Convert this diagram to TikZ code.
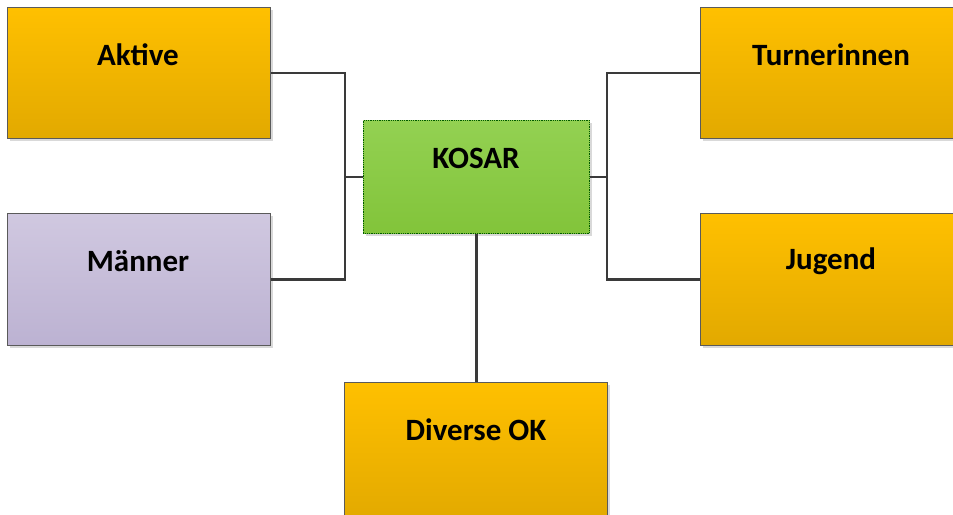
\documentclass[tikz,border=0pt]{standalone}
\usepackage{fontspec}
\setmainfont{Carlito}
\usetikzlibrary{shadows}
\definecolor{orgtop}{HTML}{FFC000}
\definecolor{orgbot}{HTML}{E2A900}
\definecolor{purtop}{HTML}{D0C8E0}
\definecolor{purbot}{HTML}{BCB2D2}
\definecolor{grntop}{HTML}{93D152}
\definecolor{grnbot}{HTML}{82C43A}
\definecolor{edge}{HTML}{5A5A5A}
\definecolor{conn}{HTML}{3A3A3A}
\begin{document}
\begin{tikzpicture}[x=1pt,y=-1pt,
  box/.style={draw=edge,line width=0.8pt,anchor=north west,inner sep=0pt,
    drop shadow={shadow xshift=3pt,shadow yshift=-3pt,fill=black!15,opacity=1}},
  orgbox/.style={box,top color=orgtop,bottom color=orgbot},
  purbox/.style={box,top color=purtop,bottom color=purbot},
  grnbox/.style={box,top color=grntop,bottom color=grnbot,draw=green!35!black,densely dotted},
  lbl/.style={font=\bfseries\fontsize{31}{33}\selectfont},
  link/.style={draw=conn,line width=2.8pt}]
\useasboundingbox (0,0) rectangle (953,514);
\node[orgbox,minimum width=263pt,minimum height=131pt] (aktive) at (7,7) {};
\node[purbox,minimum width=263pt,minimum height=132pt] (maenner) at (7,213) {};
\node[grnbox,minimum width=226pt,minimum height=113pt] (kosar) at (363,120) {};
\node[orgbox,minimum width=263pt,minimum height=140pt] (diverse) at (344,382) {};
\node[orgbox,minimum width=263pt,minimum height=131pt] (turn) at (700,7) {};
\node[orgbox,minimum width=263pt,minimum height=132pt] (jugend) at (700,213) {};
\node[lbl] (t1) at (138,55) {Aktive};
\node[lbl] (t2) at (138,261) {Männer};
\node[lbl] (t3) at (476,158) {KOSAR};
\node[lbl] (t4) at (476,430) {Diverse OK};
\node[lbl] (t5) at (831,55) {Turnerinnen};
\node[lbl] (t6) at (831,261) {Jugend};
\coordinate (lbus) at (345,0);
\coordinate (rbus) at (607,0);
\draw[link] (aktive.east) -- (aktive.east -| lbus) -- (maenner.east -| lbus) -- (maenner.east);
\draw[link] (kosar.west) -- (kosar.west -| lbus);
\draw[link] (turn.west) -- (turn.west -| rbus) -- (jugend.west -| rbus) -- (jugend.west);
\draw[link] (kosar.east) -- (kosar.east -| rbus);
\draw[link] (kosar.south) -- (kosar.south |- diverse.north);
\end{tikzpicture}
\end{document}
